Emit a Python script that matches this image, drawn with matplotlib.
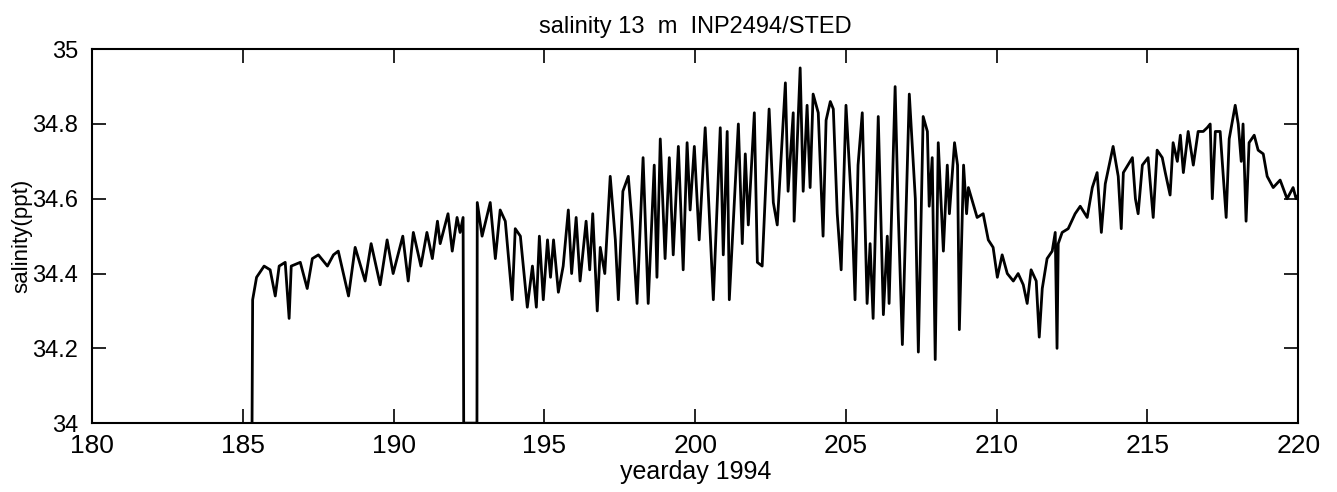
import matplotlib
matplotlib.use("Agg")
import matplotlib.pyplot as plt
from matplotlib.ticker import FuncFormatter

# yearday / salinity
yearday = [
    185.30, 185.31, 185.32, 185.45, 185.70, 185.90, 186.07, 186.20, 186.40, 186.53,
    186.60, 186.90, 187.13, 187.30, 187.50, 187.80, 188.00, 188.16, 188.50, 188.72,
    189.05, 189.25, 189.55, 189.78, 189.98, 190.30, 190.48, 190.65, 190.90, 191.10,
    191.28, 191.45, 191.54, 191.80, 191.94, 192.10, 192.20, 192.30, 192.32, 192.76,
    192.77, 192.93, 193.20, 193.37, 193.53, 193.70, 193.93, 194.03, 194.20, 194.43,
    194.60, 194.73, 194.83, 194.96, 195.10, 195.20, 195.30, 195.46, 195.62, 195.79,
    195.90, 196.05, 196.18, 196.38, 196.50, 196.60, 196.75, 196.85, 197.00, 197.18,
    197.35, 197.45, 197.60, 197.78, 197.90, 198.07, 198.27, 198.44, 198.64, 198.73,
    198.84, 199.00, 199.14, 199.27, 199.44, 199.60, 199.73, 199.83, 199.97, 200.13,
    200.33, 200.60, 200.83, 200.93, 201.06, 201.13, 201.43, 201.56, 201.66, 201.76,
    201.96, 202.06, 202.22, 202.45, 202.59, 202.72, 202.89, 202.99, 203.08, 203.25,
    203.28, 203.48, 203.58, 203.71, 203.81, 203.91, 204.08, 204.24, 204.34, 204.48,
    204.58, 204.71, 204.84, 205.00, 205.20, 205.30, 205.40, 205.54, 205.70, 205.80,
    205.90, 206.07, 206.24, 206.37, 206.43, 206.63, 206.73, 206.87, 206.97, 207.10,
    207.30, 207.40, 207.56, 207.70, 207.76, 207.86, 207.96, 208.06, 208.23, 208.36,
    208.43, 208.60, 208.70, 208.76, 208.90, 209.00, 209.06, 209.35, 209.55, 209.72,
    209.88, 210.02, 210.18, 210.35, 210.55, 210.71, 210.88, 211.01, 211.14, 211.31,
    211.41, 211.51, 211.67, 211.84, 211.94, 212.00, 212.04, 212.17, 212.37, 212.60,
    212.77, 213.00, 213.17, 213.33, 213.47, 213.60, 213.86, 214.03, 214.13, 214.20,
    214.50, 214.60, 214.69, 214.83, 215.02, 215.19, 215.32, 215.49, 215.59, 215.75,
    215.85, 215.99, 216.09, 216.19, 216.35, 216.52, 216.68, 216.85, 216.98, 217.08,
    217.15, 217.25, 217.41, 217.61, 217.71, 217.91, 218.01, 218.11, 218.17, 218.27,
    218.37, 218.54, 218.67, 218.84, 218.97, 219.17, 219.40, 219.63, 219.83, 219.93,
    220.00,
]
salinity = [
    34.00, 34.20, 34.33, 34.39, 34.42, 34.41, 34.34, 34.42, 34.43, 34.28,
    34.42, 34.43, 34.36, 34.44, 34.45, 34.42, 34.45, 34.46, 34.34, 34.47,
    34.38, 34.48, 34.37, 34.49, 34.40, 34.50, 34.38, 34.51, 34.42, 34.51,
    34.44, 34.54, 34.48, 34.56, 34.46, 34.55, 34.51, 34.55, 34.00, 34.00,
    34.59, 34.50, 34.59, 34.44, 34.57, 34.54, 34.33, 34.52, 34.50, 34.31,
    34.42, 34.31, 34.50, 34.33, 34.49, 34.39, 34.49, 34.35, 34.42, 34.57,
    34.40, 34.55, 34.38, 34.54, 34.41, 34.56, 34.30, 34.47, 34.40, 34.66,
    34.49, 34.33, 34.62, 34.66, 34.54, 34.32, 34.71, 34.32, 34.69, 34.39,
    34.76, 34.44, 34.71, 34.45, 34.74, 34.41, 34.75, 34.57, 34.74, 34.49,
    34.79, 34.33, 34.79, 34.45, 34.78, 34.33, 34.80, 34.48, 34.72, 34.53,
    34.83, 34.43, 34.42, 34.84, 34.59, 34.53, 34.77, 34.91, 34.62, 34.83,
    34.54, 34.95, 34.62, 34.85, 34.63, 34.88, 34.83, 34.50, 34.81, 34.86,
    34.84, 34.56, 34.41, 34.85, 34.56, 34.33, 34.69, 34.83, 34.32, 34.48,
    34.28, 34.82, 34.29, 34.50, 34.32, 34.90, 34.57, 34.21, 34.50, 34.88,
    34.60, 34.19, 34.82, 34.78, 34.58, 34.71, 34.17, 34.75, 34.46, 34.69,
    34.56, 34.75, 34.69, 34.25, 34.69, 34.56, 34.63, 34.55, 34.56, 34.49,
    34.47, 34.39, 34.45, 34.40, 34.38, 34.40, 34.37, 34.32, 34.41, 34.38,
    34.23, 34.36, 34.44, 34.46, 34.51, 34.20, 34.48, 34.51, 34.52, 34.56,
    34.58, 34.55, 34.63, 34.67, 34.51, 34.64, 34.74, 34.66, 34.52, 34.67,
    34.71, 34.60, 34.56, 34.69, 34.71, 34.55, 34.73, 34.71, 34.67, 34.61,
    34.75, 34.70, 34.77, 34.67, 34.78, 34.69, 34.78, 34.78, 34.79, 34.80,
    34.60, 34.78, 34.78, 34.55, 34.76, 34.85, 34.80, 34.70, 34.80, 34.54,
    34.75, 34.77, 34.73, 34.72, 34.66, 34.63, 34.65, 34.60, 34.63, 34.60,
    34.61,
]

xticks = [180, 185, 190, 195, 200, 205, 210, 215, 220]
yticks = [34.0, 34.2, 34.4, 34.6, 34.8, 35.0]

plt.rcParams['font.family'] = ['Liberation Sans', 'DejaVu Sans']

fig = plt.figure(figsize=(13.37, 4.92), dpi=100)
ax = fig.add_axes([0.069, 0.14, 0.902, 0.76])

ax.plot(yearday, salinity, color='black', lw=2.0)

ax.set_xlim(180, 220)
ax.set_ylim(34, 35)
ax.set_xticks(xticks)
ax.set_yticks(yticks)
ax.yaxis.set_major_formatter(FuncFormatter(lambda v, p: "%g" % round(v, 1)))
ax.tick_params(direction='in', length=10, width=1.2, top=True, right=True)
ax.tick_params(axis='x', labelsize=19, pad=8)
ax.tick_params(axis='y', labelsize=17, pad=10)
for s in ax.spines.values():
    s.set_linewidth(1.5)

ax.set_title("salinity 13  m  INP2494/STED", fontsize=17, pad=12)
ax.set_xlabel("yearday 1994", fontsize=18, labelpad=1)
ax.set_ylabel("salinity(ppt)", fontsize=16)
ax.yaxis.set_label_coords(-0.05, 0.5)

fig.savefig("out.png", dpi=100)
